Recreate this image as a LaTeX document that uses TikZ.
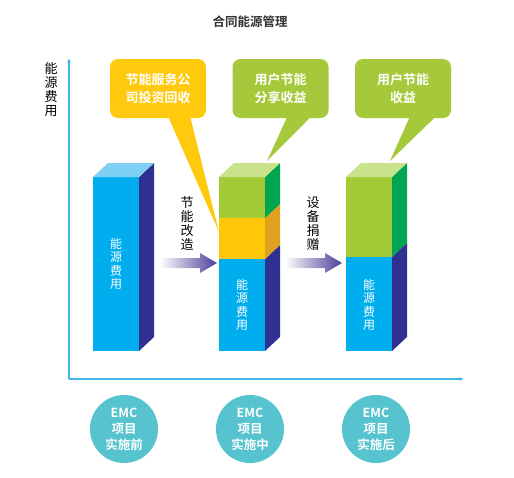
\documentclass[tikz,border=0pt]{standalone}
\usepackage{fontspec}
\newfontfamily\cjk[BoldFont={Noto Sans CJK SC Bold}]{Noto Sans CJK SC}
\usetikzlibrary{positioning,calc,arrows.meta}
\definecolor{barblue}{HTML}{00AEEF}
\definecolor{bluetop}{HTML}{7ED0F5}
\definecolor{barnavy}{HTML}{2E3192}
\definecolor{bargreen}{HTML}{A3CB38}
\definecolor{greentop}{HTML}{C9E28C}
\definecolor{greenside}{HTML}{00A551}
\definecolor{baryellow}{HTML}{FFC708}
\definecolor{yellowside}{HTML}{E0A11E}
\definecolor{callyellow}{HTML}{FFC90D}
\definecolor{callgreen}{HTML}{A6C93B}
\definecolor{emcteal}{HTML}{56C3CF}
\definecolor{axisblue}{HTML}{3FB2E6}
\definecolor{arrowpurple}{HTML}{4B3F98}
\definecolor{titlegray}{HTML}{333333}
% front segment and side face of one bar
\newcommand{\barseg}[5]{%
  \fill[#1] (#3,#4) rectangle (#3+46,#5);
  \fill[#2] (#3+46,#4) -- (#3+61,#4-14) -- (#3+61,#5-14) -- (#3+46,#5) -- cycle;}
\newcommand{\bartop}[3]{%
  \fill[#1] (#2,#3) -- (#2+15,#3-14) -- (#2+61,#3-14) -- (#2+46,#3) -- cycle;}
\tikzset{
  callout/.style={rounded corners=8pt, minimum width=96pt, minimum height=59pt, align=center, text=white, font=\cjk\bfseries\fontsize{13}{18}\selectfont},
  stage/.style={circle, fill=emcteal, minimum size=68pt, inner sep=0pt, align=center, text=white, font=\cjk\bfseries\fontsize{12.5}{16}\selectfont},
  vlabel/.style={align=center, inner sep=0pt, font=\cjk\fontsize{13}{14}\selectfont},
  bartext/.style={align=center, inner sep=0pt, text=white, font=\cjk\fontsize{12}{13.5}\selectfont},
  axisline/.style={draw=axisblue, line width=1.2pt, -{Latex[length=6pt,width=3.5pt]}},
  arrowshade/.style={left color=white, right color=arrowpurple},
}
\begin{document}
\begin{tikzpicture}[x=1pt, y=-1pt]
  \useasboundingbox[fill=white] (0,0) rectangle (514,477);
  % title
  \node[font=\cjk\bfseries\fontsize{12.5}{14}\selectfont, text=titlegray] (title) at (250,22) {合同能源管理};

  % axes
  \coordinate (origin) at (69,379);
  \coordinate (ytop) at (69,57);
  \coordinate (xend) at (465,379);
  \draw[axisline] (origin) -- (ytop);
  \draw[axisline] (origin) -- (xend);
  \node[vlabel] (ylabel) at (51,90) {能\\源\\费\\用};

  % callouts (tails first, bars drawn over them)
  \node[callout, fill=callyellow] (call1) at (158,88.5) {节能服务公\\司投资回收};
  \node[callout, fill=callgreen] (call2) at (280.5,88.5) {用户节能\\分享收益};
  \node[callout, fill=callgreen] (call3) at (403,88.5) {用户节能\\收益};
  \coordinate (tip1) at (219,232);
  \coordinate (tip2) at (267,161);
  \coordinate (tip3) at (390,161);
  \fill[callyellow] ([xshift=10pt,yshift=2pt]call1.south) -- ([xshift=32pt,yshift=2pt]call1.south) -- (tip1) -- cycle;
  \fill[callgreen] ([xshift=7pt,yshift=2pt]call2.south) -- ([xshift=31pt,yshift=2pt]call2.south) -- (tip2) -- cycle;
  \fill[callgreen] ([xshift=7pt,yshift=2pt]call3.south) -- ([xshift=33pt,yshift=2pt]call3.south) -- (tip3) -- cycle;

  % bar 1: before
  \barseg{barblue}{barnavy}{93}{177}{351}
  \bartop{bluetop}{93}{177}
  \node[bartext] (cost1) at (116,264) {能\\源\\费\\用};

  % bar 2: during
  \barseg{barblue}{barnavy}{219}{259}{351}
  \barseg{baryellow}{yellowside}{219}{218}{259}
  \barseg{bargreen}{greenside}{219}{177}{218}
  \bartop{greentop}{219}{177}
  \node[bartext] (cost2) at (242,305) {能\\源\\费\\用};

  % bar 3: after
  \barseg{barblue}{barnavy}{346}{257}{351}
  \barseg{bargreen}{greenside}{346}{177}{257}
  \bartop{greentop}{346}{177}
  \node[bartext] (cost3) at (369,305) {能\\源\\费\\用};

  % shaded arrows between the bars
  \coordinate (a1s) at (160,263);
  \coordinate (a1e) at (217,263);
  \coordinate (a2s) at (285,263);
  \coordinate (a2e) at (342,263);
  \foreach \s/\e in {a1s/a1e, a2s/a2e}
    \shade[arrowshade] (\s) ++(0,-5) -- ++(40,0) -- ++(0,-5) -- (\e) -- ++(-17,10) -- ++(0,-5) -- ++(-40,0) -- cycle;
  \node[vlabel] (step1) at (187,224) {节\\能\\改\\造};
  \node[vlabel] (step2) at (313,224) {设\\备\\捐\\赠};

  % project stages
  \node[stage] (before) at (124,429) {EMC\\项目\\实施前};
  \node[stage] (during) at (250,429) {EMC\\项目\\实施中};
  \node[stage] (after) at (376,429) {EMC\\项目\\实施后};
\end{tikzpicture}
\end{document}
